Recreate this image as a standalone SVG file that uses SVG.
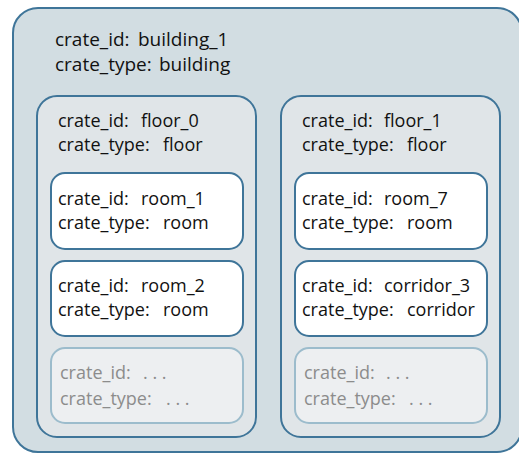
<svg xmlns="http://www.w3.org/2000/svg" width="519" height="454" viewBox="0 0 519 454">
<style>
text{font-family:"Open Sans","Noto Sans",sans-serif;font-size:18px;fill:#111}
text.h{font-size:19px}
.b{fill:#d2dde2;stroke:#3f7599;stroke-width:2}
.f{fill:#e0e5e8;stroke:#3f7599;stroke-width:2}
.r{fill:#fff;stroke:#3f7599;stroke-width:2}
.p{fill:#edeff1;stroke:#9cbccc;stroke-width:2}
text.g{fill:#8c8c8c}
</style>
<rect width="519" height="454" fill="#fff"/>
<g id="building_1">
<rect class="b" x="13" y="8" width="509" height="444" rx="25"/>
<text class="h" x="55" y="46">crate_id:<tspan x="138">building_1</tspan></text>
<text class="h" x="55" y="71">crate_type:<tspan x="159">building</tspan></text>
</g>
<g id="floor_0">
<rect class="f" x="37" y="96" width="219" height="341" rx="20"/>
<text x="58" y="127">crate_id:<tspan x="141">floor_0</tspan></text>
<text x="58" y="151">crate_type:<tspan x="163">floor</tspan></text>
</g>
<g id="floor_1">
<rect class="f" x="281" y="96" width="219" height="341" rx="20"/>
<text x="302" y="127">crate_id:<tspan x="384">floor_1</tspan></text>
<text x="302" y="151">crate_type:<tspan x="407">floor</tspan></text>
</g>
<g id="room_1">
<rect class="r" x="51" y="173" width="192" height="76" rx="14"/>
<text x="58" y="205">crate_id:<tspan x="141">room_1</tspan></text>
<text x="58" y="229">crate_type:<tspan x="163">room</tspan></text>
</g>
<g id="room_2">
<rect class="r" x="51" y="261" width="192" height="75" rx="14"/>
<text x="58" y="292">crate_id:<tspan x="141">room_2</tspan></text>
<text x="58" y="316">crate_type:<tspan x="163">room</tspan></text>
</g>
<g id="placeholder_0">
<rect class="p" x="51" y="348" width="192" height="75" rx="14"/>
<text class="g" x="60" y="379">crate_id:<tspan x="143">. . .</tspan></text>
<text class="g" x="60" y="405">crate_type:<tspan x="166">. . .</tspan></text>
</g>
<g id="room_7">
<rect class="r" x="295" y="173" width="192" height="76" rx="14"/>
<text x="302" y="205">crate_id:<tspan x="384">room_7</tspan></text>
<text x="302" y="229">crate_type:<tspan x="407">room</tspan></text>
</g>
<g id="corridor_3">
<rect class="r" x="295" y="261" width="192" height="75" rx="14"/>
<text x="302" y="292">crate_id:<tspan x="384">corridor_3</tspan></text>
<text x="302" y="316">crate_type:<tspan x="407">corridor</tspan></text>
</g>
<g id="placeholder_1">
<rect class="p" x="295" y="348" width="192" height="75" rx="14"/>
<text class="g" x="304" y="379">crate_id:<tspan x="386">. . .</tspan></text>
<text class="g" x="304" y="405">crate_type:<tspan x="409">. . .</tspan></text>
</g>
<g id="connectors"/>
</svg>
